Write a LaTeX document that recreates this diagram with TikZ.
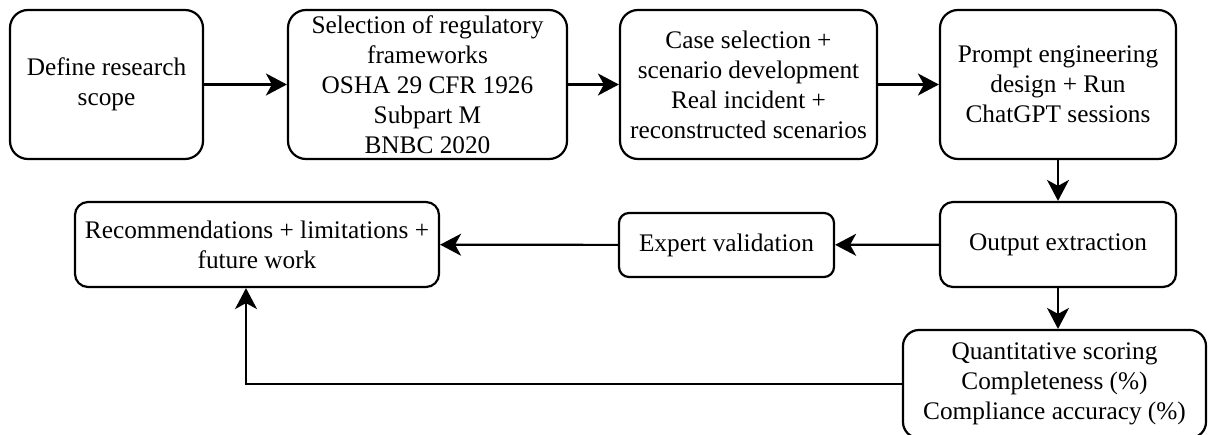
\documentclass[tikz,border=0pt]{standalone}
\usepackage{fontspec}
\setmainfont{Liberation Serif}
\usetikzlibrary{arrows.meta}
\begin{document}
\begin{tikzpicture}[x=1pt,y=1pt,
  box/.style={draw, line width=2.2pt, rounded corners=#1, align=center, inner sep=0pt,
    font=\fontsize{25.3}{30}\selectfont},
  box/.default=16pt,
  arr/.style={line width=2.2pt, -{Stealth[length=21pt 0,width=22pt 0,inset=6pt 0]}}]
\useasboundingbox (0,0) rectangle (1208,-434);
\fill[white] (0,0) rectangle (1208,-434);

\node[box=18pt, minimum width=193pt, minimum height=149pt] (scope) at (106.5,-84.5)
  {Define research\\scope};
\node[box=18pt, minimum width=279pt, minimum height=149pt] (frame) at (427.5,-84.5)
  {Selection of regulatory\\frameworks\\OSHA 29 CFR 1926\\Subpart M\\BNBC 2020};
\node[box=18pt, minimum width=257pt, minimum height=149pt] (case) at (748.5,-84.5)
  {Case selection +\\scenario development\\Real incident +\\reconstructed scenarios};
\node[box=18pt, minimum width=236pt, minimum height=149pt] (prompt) at (1058,-84.5)
  {Prompt engineering\\design + Run\\ChatGPT sessions};
\node[box=13pt, minimum width=236pt, minimum height=85pt] (out) at (1058,-244.5)
  {Output extraction};
\node[box=10pt, minimum width=215pt, minimum height=64pt] (expert) at (726.5,-245)
  {Expert validation};
\node[box=13pt, minimum width=364pt, minimum height=85pt] (rec) at (257,-244.5)
  {Recommendations + limitations +\\future work};
\node[box=16pt, minimum width=303pt, minimum height=108pt] (quant) at (1054.5,-384)
  {Quantitative scoring\\Completeness (\%)\\Compliance accuracy (\%)};

\coordinate (bend) at (246,-384);

\draw[arr] (scope) -- (frame);
\draw[arr] (frame) -- (case);
\draw[arr] (case) -- (prompt);
\draw[arr] (prompt) -- (out);
\draw[arr] (out) -- (expert);
\draw[arr] (expert) -- (rec);
\draw[arr] (out.south) -- (out.south |- quant.north);
\draw[arr] (quant.west) -- (bend) -- (bend |- rec.south);
\end{tikzpicture}
\end{document}
